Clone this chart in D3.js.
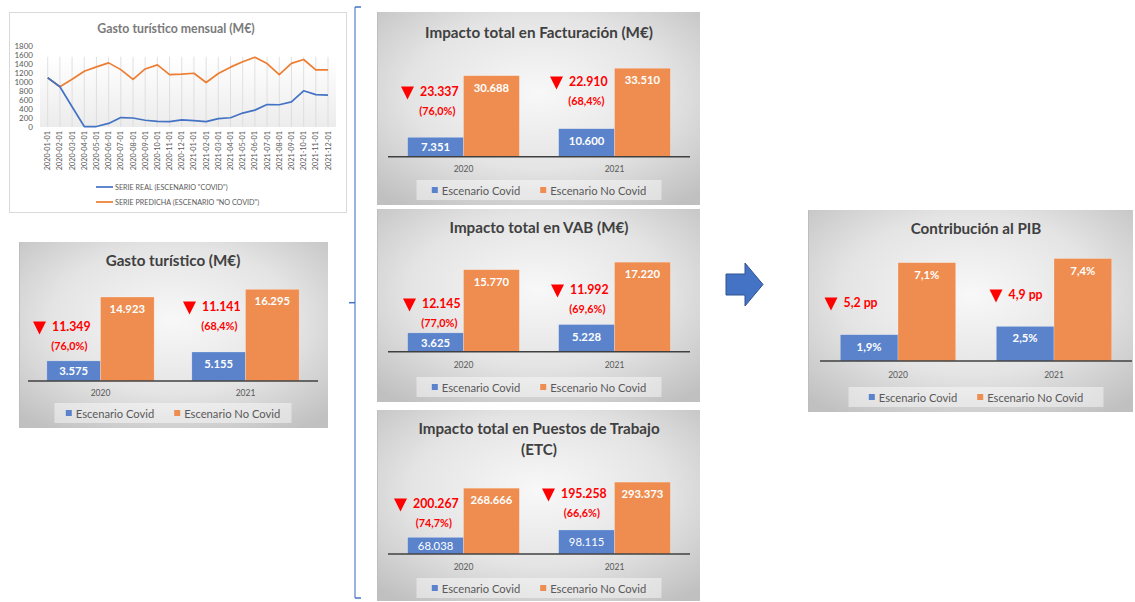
<!DOCTYPE html>
<html><head><meta charset="utf-8">
<script src="https://cdn.jsdelivr.net/npm/d3@7"></script>
<style>
html,body{margin:0;padding:0;background:#fff;}
svg{display:block;font-family:Lato,"Open Sans",sans-serif;}
</style></head>
<body>
<svg id="chart" width="1135" height="602"></svg>
<script>
// ---------------- DATA ----------------
const months = ["2020-01-01","2020-02-01","2020-03-01","2020-04-01","2020-05-01","2020-06-01","2020-07-01","2020-08-01","2020-09-01","2020-10-01","2020-11-01","2020-12-01",
"2021-01-01","2021-02-01","2021-03-01","2021-04-01","2021-05-01","2021-06-01","2021-07-01","2021-08-01","2021-09-01","2021-10-01","2021-11-01","2021-12-01"];
const serieReal     = [1095, 895, 450, 10, 10, 80, 210, 200, 150, 125, 120, 160, 140, 120, 185, 205, 310, 375, 500, 495, 560, 805, 720, 710];
const seriePredicha = [1095, 895, 1060, 1240, 1335, 1425, 1275, 1060, 1290, 1380, 1165, 1175, 1195, 990, 1190, 1330, 1450, 1550, 1410, 1165, 1415, 1500, 1270, 1270];
const lineTicks = [0, 200, 400, 600, 800, 1000, 1200, 1400, 1600, 1800];
const lineLegend = ['SERIE REAL (ESCENARIO "COVID")', 'SERIE PREDICHA (ESCENARIO "NO COVID")'];

const years = ["2020", "2021"];
const legendLabels = ["Escenario Covid", "Escenario No Covid"];

const gastoCovid   = [3575, 5155];
const gastoNoCovid = [14923, 16295];
const gastoDiff    = [11349, 11141];
const gastoPct     = [76.0, 68.4];

const factCovid   = [7351, 10600];
const factNoCovid = [30688, 33510];
const factDiff    = [23337, 22910];
const factPct     = [76.0, 68.4];

const vabCovid   = [3625, 5228];
const vabNoCovid = [15770, 17220];
const vabDiff    = [12145, 11992];
const vabPct     = [77.0, 69.6];

const empCovid   = [68038, 98115];
const empNoCovid = [268666, 293373];
const empDiff    = [200267, 195258];
const empPct     = [74.7, 66.6];

const pibCovid   = [1.9, 2.5];
const pibNoCovid = [7.1, 7.4];
const pibDiff    = [5.2, 4.9];

// ---------------- STYLE / LAYOUT ----------------
const BLUE = "#4472c4", ORANGE = "#ed7d31", RED = "#ff0000", TXT = "#595959";
const BAR_BLUE = "#5a83cc", BAR_ORANGE = "#ee8d4f";
const loc = d3.formatLocale({decimal: ",", thousands: ".", grouping: [3], currency: ["", ""]});
const fInt = loc.format(",d");
const f1 = loc.format(".1f");
const fPct = v => "(" + f1(v) + "%)";
const fPib = v => f1(v) + "%";
const fPp = v => f1(v) + " pp";

const svg = d3.select("#chart");
const defs = svg.append("defs");
const rg = defs.append("radialGradient").attr("id", "panelBg").attr("cx", "50%").attr("cy", "42%").attr("r", "72%");
rg.append("stop").attr("offset", "0%").attr("stop-color", "#f8f8f8");
rg.append("stop").attr("offset", "55%").attr("stop-color", "#e4e4e4");
rg.append("stop").attr("offset", "100%").attr("stop-color", "#c0c0c0");
const lg = defs.append("linearGradient").attr("id", "plotBg").attr("x1", 0).attr("y1", 0).attr("x2", 0).attr("y2", 1);
lg.append("stop").attr("offset", "0%").attr("stop-color", "#ffffff");
lg.append("stop").attr("offset", "100%").attr("stop-color", "#ececec");

// ---------------- LINE CHART ----------------
(function () {
  const g = svg.append("g");
  g.append("rect").attr("x", 9.5).attr("y", 12.5).attr("width", 337).attr("height", 200)
    .attr("fill", "#fff").attr("stroke", "#d9d9d9");
  g.append("text").attr("x", 176).attr("y", 28).attr("text-anchor", "middle").attr("dominant-baseline", "central")
    .attr("font-size", 12.3).attr("font-weight", "bold").attr("fill", "#7a7a7a").text("Gasto turístico mensual (M€)");
  const x = d3.scalePoint().domain(months).range([47.7, 328]);
  const y = d3.scaleLinear().domain([0, 1800]).range([127, 46]);
  g.append("rect").attr("x", 40).attr("width", 296).attr("y", y(1560)).attr("height", y(0) - y(1560)).attr("fill", "url(#plotBg)");
  g.selectAll("line.v").data(months).join("line").attr("class", "v")
    .attr("x1", d => x(d)).attr("x2", d => x(d)).attr("y1", y(1560)).attr("y2", y(0))
    .attr("stroke", "#d9d9d9").attr("stroke-width", 0.8);
  g.selectAll("text.yt").data(lineTicks).join("text").attr("class", "yt")
    .attr("x", 33).attr("y", d => y(d)).attr("text-anchor", "end").attr("dominant-baseline", "central")
    .attr("font-size", 8).attr("fill", TXT).text(d => d);
  g.selectAll("text.xt").data(months).join("text").attr("class", "xt")
    .attr("transform", d => `translate(${x(d)},131) rotate(-90)`)
    .attr("text-anchor", "end").attr("dominant-baseline", "central")
    .attr("font-size", 7.3).attr("fill", TXT).text(d => d);
  const line = d3.line().x((d, i) => x(months[i])).y(d => y(d));
  g.append("path").datum(seriePredicha).attr("d", line).attr("fill", "none").attr("stroke", ORANGE).attr("stroke-width", 1.7).attr("stroke-linejoin", "round");
  g.append("path").datum(serieReal).attr("d", line).attr("fill", "none").attr("stroke", BLUE).attr("stroke-width", 1.7).attr("stroke-linejoin", "round");
  const cols = [BLUE, ORANGE];
  lineLegend.forEach((t, i) => {
    const ly = 187 + i * 15;
    g.append("line").attr("x1", 96).attr("x2", 113).attr("y1", ly).attr("y2", ly).attr("stroke", cols[i]).attr("stroke-width", 1.7);
    g.append("text").attr("x", 115).attr("y", ly).attr("dominant-baseline", "central")
      .attr("font-size", 7.2).attr("fill", TXT).text(t);
  });
})();

// ---------------- BAR PANELS ----------------
const panels = [
  {title: ["Gasto turístico (M€)"], covid: gastoCovid, noCovid: gastoNoCovid, diff: gastoDiff, pct: gastoPct,
   fv: fInt, fd: fInt, box: [19, 242, 309, 186], px: [28, 318], base: 381, yMax: 18000, plotH: 101.3,
   titleY: [260], axisY: 393, legY: 403, legW: 237, ann: [[-48.5, -55], [-43.5, -75]], covidBold: true},
  {title: ["Impacto total en Facturación (M€)"], covid: factCovid, noCovid: factNoCovid, diff: factDiff, pct: factPct,
   fv: fInt, fd: fInt, box: [377, 12, 323, 193], px: [388, 690], base: 156.7, yMax: 40000, plotH: 105.6,
   titleY: [32], axisY: 169, legY: 180, legW: 245, ann: [[-43.5, -65.7], [-45.5, -75.7]], covidBold: true},
  {title: ["Impacto total en VAB (M€)"], covid: vabCovid, noCovid: vabNoCovid, diff: vabDiff, pct: vabPct,
   fv: fInt, fd: fInt, box: [377, 209, 323, 193], px: [388, 690], base: 351.7, yMax: 20000, plotH: 104,
   titleY: [227], axisY: 365, legY: 377, legW: 245, ann: [[-41.5, -48.7], [-44.5, -62.7]], covidBold: true},
  {title: ["Impacto total en Puestos de Trabajo", "(ETC)"], covid: empCovid, noCovid: empNoCovid, diff: empDiff, pct: empPct,
   fv: fInt, fd: fInt, box: [377, 410, 323, 191], px: [388, 690], base: 554, yMax: 350000, plotH: 85.75,
   titleY: [428, 449], axisY: 567, legY: 578, legW: 245, ann: [[-50.5, -51], [-53.5, -61]], covidBold: false},
  {title: ["Contribución al PIB"], covid: pibCovid, noCovid: pibNoCovid, diff: pibDiff, pct: null,
   fv: fPib, fd: fPp, box: [808, 210, 325, 202], px: [820, 1132], base: 361, yMax: 8, plotH: 110.8,
   titleY: [228], axisY: 375, legY: 387, legW: 255, ann: [[-54.5, -59], [-45.5, -67]], covidBold: true}
];

panels.forEach(p => {
  const g = svg.append("g");
  const [bx, by, bw, bh] = p.box;
  g.append("rect").attr("x", bx).attr("y", by).attr("width", bw).attr("height", bh).attr("fill", "url(#panelBg)");
  g.append("line").attr("x1", bx + 0.5).attr("x2", bx + 0.5).attr("y1", by).attr("y2", by + bh).attr("stroke", "#bdbdbd");
  const cxm = (p.px[0] + p.px[1]) / 2;
  p.title.forEach((t, i) => g.append("text").attr("x", cxm).attr("y", p.titleY[i]).attr("text-anchor", "middle")
    .attr("dominant-baseline", "central").attr("font-size", 15.2).attr("font-weight", "bold").attr("fill", "#404040").text(t));

  const x0 = d3.scaleBand().domain(years).range(p.px).paddingInner(0.26).paddingOuter(0.13);
  const x1 = d3.scaleBand().domain(["covid", "noCovid"]).range([0, x0.bandwidth()]);
  const y = d3.scaleLinear().domain([0, p.yMax]).range([p.base, p.base - p.plotH]);

  const rows = years.map((yr, i) => ({yr, i, vals: [{k: "covid", v: p.covid[i]}, {k: "noCovid", v: p.noCovid[i]}]}));
  const grp = g.selectAll("g.grp").data(rows).join("g").attr("transform", d => `translate(${x0(d.yr)},0)`);
  grp.selectAll("rect").data(d => d.vals).join("rect")
    .attr("x", d => x1(d.k)).attr("width", x1.bandwidth()).attr("y", d => y(d.v)).attr("height", d => y(0) - y(d.v))
    .attr("fill", d => d.k === "covid" ? BAR_BLUE : BAR_ORANGE).attr("stroke", "rgba(255,255,255,0.4)").attr("stroke-width", 0.6);
  grp.selectAll("text.val").data(d => d.vals).join("text").attr("class", "val")
    .attr("x", d => x1(d.k) + x1.bandwidth() / 2)
    .attr("y", d => y(d.v) + Math.min(11.5, (y(0) - y(d.v)) / 2))
    .attr("text-anchor", "middle").attr("dominant-baseline", "central")
    .attr("font-size", 11.3).attr("font-weight", d => (d.k === "covid" && !p.covidBold) ? "normal" : "bold")
    .attr("fill", "#fff").text(d => p.fv(d.v));

  g.append("line").attr("x1", p.px[0]).attr("x2", p.px[1]).attr("y1", p.base).attr("y2", p.base)
    .attr("stroke", "#404040").attr("stroke-width", 1.4);
  g.selectAll("text.cat").data(years).join("text").attr("class", "cat")
    .attr("x", d => x0(d) + x0.bandwidth() / 2).attr("y", p.axisY).attr("text-anchor", "middle")
    .attr("dominant-baseline", "central").attr("font-size", 8.5).attr("fill", TXT).text(d => d);

  // annotations
  years.forEach((yr, i) => {
    const cx = x0(yr) + x0.bandwidth() / 2;
    const nx = cx + p.ann[i][0], ny = p.base + p.ann[i][1];
    const tcx = nx - 12.5, tt = ny - 4.5;
    g.append("path").attr("d", `M${tcx - 6.5},${tt}L${tcx + 6.5},${tt}L${tcx},${tt + 13}Z`).attr("fill", RED);
    const nt = g.append("text").attr("x", nx).attr("y", ny).attr("dominant-baseline", "central")
      .attr("font-size", 12.3).attr("font-weight", "bold").attr("fill", RED).text(p.fd(p.diff[i]));
    if (p.pct) {
      const w = nt.node().getComputedTextLength();
      g.append("text").attr("x", nx + w / 2 - 2).attr("y", ny + 19).attr("text-anchor", "middle").attr("dominant-baseline", "central")
        .attr("font-size", 10.8).attr("font-weight", "bold").attr("fill", RED).text(fPct(p.pct[i]));
    }
  });

  // legend
  const lx = cxm - p.legW / 2;
  g.append("rect").attr("x", lx).attr("y", p.legY).attr("width", p.legW).attr("height", 20).attr("fill", "rgba(255,255,255,0.45)");
  const items = g.append("g");
  let cur = 0;
  legendLabels.forEach((t, i) => {
    items.append("rect").attr("x", cur).attr("y", p.legY + 7).attr("width", 6).attr("height", 6).attr("fill", i ? BAR_ORANGE : BAR_BLUE);
    const tx = items.append("text").attr("x", cur + 10).attr("y", p.legY + 10).attr("dominant-baseline", "central")
      .attr("font-size", 11.2).attr("fill", TXT).text(t);
    cur += 10 + tx.node().getComputedTextLength() + (i ? 0 : 20);
  });
  items.attr("transform", `translate(${cxm - cur / 2},0)`);
});

// ---------------- BRACKET & ARROW ----------------
svg.append("line").attr("x1", 355).attr("x2", 355).attr("y1", 7).attr("y2", 598).attr("stroke", "#8eaadb").attr("stroke-width", 1.8);
[[355, 361, 7], [355, 361, 598], [349, 355, 302.7]].forEach(t =>
  svg.append("line").attr("x1", t[0]).attr("x2", t[1]).attr("y1", t[2]).attr("y2", t[2]).attr("stroke", BLUE).attr("stroke-width", 1.5));
svg.append("path").attr("d", "M726,274L745,274L745,263L763,284.5L745,306L745,295L726,295Z")
  .attr("fill", BLUE).attr("stroke", "#2f528f").attr("stroke-width", 1);
</script>
</body></html>
